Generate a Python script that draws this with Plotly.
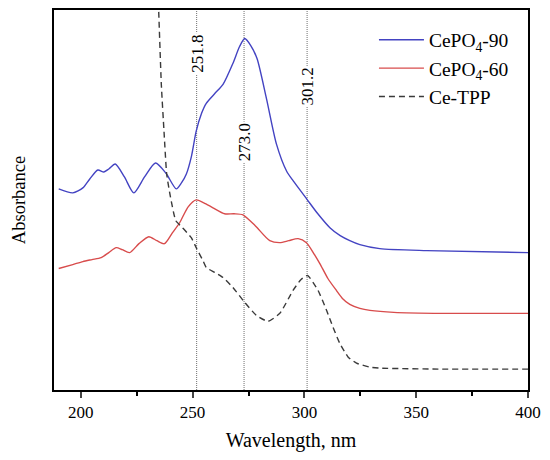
import plotly.graph_objects as go

# Wavelength (nm) / absorbance (a.u.)
wl_90 = [190.1, 196.4, 200.9, 204.0, 207.6, 210.3, 212.5, 215.4, 219.5, 223.7, 228.5,
         233.4, 238.0, 242.7, 245.0, 247.2, 249.5, 251.6, 254.0, 256.1, 260.0, 263.6,
         268.0, 271.0, 273.3, 276.0, 278.8, 283.0, 287.5, 292.0, 295.0, 301.0, 306.0,
         311.4, 316.0, 320.3, 324.8, 333.7, 354.7, 400.0]
abs_90 = [2.02, 1.98, 2.03, 2.12, 2.21, 2.19, 2.22, 2.27, 2.14, 1.98, 2.14,
          2.28, 2.18, 2.02, 2.08, 2.17, 2.35, 2.60, 2.78, 2.88, 2.98, 3.07,
          3.28, 3.45, 3.53, 3.46, 3.33, 2.93, 2.47, 2.20, 2.10, 1.92, 1.77,
          1.63, 1.55, 1.50, 1.46, 1.42, 1.40, 1.38]

wl_60 = [190.1, 196.4, 200.9, 205.0, 209.1, 212.5, 215.8, 218.5, 221.8, 226.0, 230.4,
         234.0, 237.4, 241.0, 244.2, 248.0, 251.6, 255.0, 259.1, 264.3, 268.5, 272.5,
         278.0, 284.5, 289.0, 293.0, 297.2, 300.9, 304.5, 306.9, 310.5, 314.3, 317.0,
         320.3, 324.8, 329.3, 340.0, 362.0, 400.0]
abs_60 = [1.22, 1.26, 1.29, 1.31, 1.33, 1.38, 1.43, 1.41, 1.38, 1.47, 1.54,
          1.50, 1.47, 1.58, 1.68, 1.84, 1.91, 1.88, 1.83, 1.77, 1.77, 1.76,
          1.65, 1.50, 1.48, 1.50, 1.52, 1.48, 1.36, 1.27, 1.12, 1.00, 0.92,
          0.86, 0.82, 0.80, 0.78, 0.77, 0.77]

wl_tpp = [233.6, 234.8, 236.0, 237.2, 238.4, 240.0, 242.5, 245.5, 249.4, 251.6, 254.6,
          256.1, 260.0, 263.6, 268.0, 273.3, 278.5, 283.7, 289.0, 294.9, 298.5, 301.4,
          306.1, 309.9, 312.8, 315.8, 319.6, 323.3, 329.3, 333.7, 360.0, 400.0]
abs_tpp = [4.50, 3.82, 3.07, 2.60, 2.17, 1.95, 1.70, 1.63, 1.53, 1.43, 1.30,
           1.23, 1.18, 1.13, 1.03, 0.88, 0.75, 0.69, 0.77, 1.00, 1.11, 1.15,
           1.00, 0.80, 0.63, 0.47, 0.33, 0.27, 0.23, 0.22, 0.21, 0.21]

peak_positions = [251.8, 273.0, 301.2]
peak_labels = ["251.8", "273.0", "301.2"]
peak_label_y = [3.375, 2.49, 3.05]

x_ticks = [200, 250, 300, 350, 400]

FONT = "Liberation Serif"

fig = go.Figure()
fig.add_trace(go.Scatter(x=wl_90, y=abs_90, mode="lines", name="CePO<sub>4</sub>-90",
                         line=dict(color="#4343c2", width=1.4, shape="spline", smoothing=0.7)))
fig.add_trace(go.Scatter(x=wl_60, y=abs_60, mode="lines", name="CePO<sub>4</sub>-60",
                         line=dict(color="#d84c4c", width=1.4, shape="spline", smoothing=0.7)))
fig.add_trace(go.Scatter(x=wl_tpp, y=abs_tpp, mode="lines", name="Ce-TPP",
                         line=dict(color="#3a3a3a", width=1.4, dash="6px,4px",
                                   shape="spline", smoothing=0.5)))

for xp, lab, yl in zip(peak_positions, peak_labels, peak_label_y):
    fig.add_shape(type="line", xref="x", yref="paper", x0=xp, x1=xp, y0=0, y1=1,
                  line=dict(color="#707070", width=1, dash="1px,1px"), layer="below")
    fig.add_annotation(x=xp, y=yl, xref="x", yref="y", text=lab, textangle=-90,
                       showarrow=False, bgcolor="white", borderpad=1,
                       font=dict(family=FONT, size=17, color="black"))

# the page body has an 8px default margin, so the figure is 8px smaller
fig.update_layout(
    width=542, height=452,
    margin=dict(l=46, r=22, t=0, b=70),
    paper_bgcolor="white", plot_bgcolor="white",
    font=dict(family=FONT, color="black"),
    showlegend=True,
    legend=dict(x=0.675, y=0.972, xanchor="left", yanchor="top",
                bgcolor="rgba(0,0,0,0)", borderwidth=0,
                font=dict(family=FONT, size=19.5), itemwidth=45, tracegroupgap=0),
    xaxis=dict(range=[188, 400], tickvals=x_ticks, ticks="outside", ticklen=6, tickwidth=1.5,
               showline=True, linecolor="black", linewidth=1.8, mirror=True,
               showgrid=False, zeroline=False,
               minor=dict(dtick=25, tick0=200, ticks="outside", ticklen=4, tickwidth=1.5,
                          tickcolor="black", showgrid=False),
               tickfont=dict(family=FONT, size=17),
               title=dict(text="Wavelength, nm", font=dict(family=FONT, size=20), standoff=12)),
    yaxis=dict(range=[0, 3.817], showticklabels=False, ticks="",
               showline=True, linecolor="black", linewidth=1.8, mirror=True,
               showgrid=False, zeroline=False,
               title=dict(text="Absorbance", font=dict(family=FONT, size=18.5), standoff=22)),
)

fig.write_html("out.html")
